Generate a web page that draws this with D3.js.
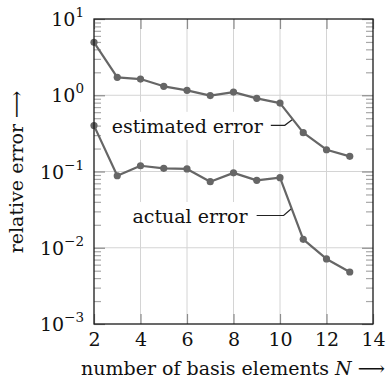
<!DOCTYPE html>
<html>
<head>
<meta charset="utf-8">
<script src="https://cdn.jsdelivr.net/npm/d3@7"></script>
<style>
  html, body { margin: 0; padding: 0; background: #fff; }
  svg { display: block; }
  text { font-family: "DejaVu Serif", "Liberation Serif", serif; fill: #111; }
</style>
</head>
<body>
<svg id="chart" width="392" height="380"></svg>
<script>
// ---- data ----
const basisN = [2, 3, 4, 5, 6, 7, 8, 9, 10, 11, 12, 13];
const estimatedError = [4.95, 1.72, 1.63, 1.31, 1.16, 0.99, 1.10, 0.91, 0.79, 0.323, 0.193, 0.158];
const actualError = [0.40, 0.088, 0.119, 0.110, 0.108, 0.0735, 0.096, 0.0766, 0.083, 0.0129, 0.00713, 0.00481];
const xTickValues = [2, 4, 6, 8, 10, 12, 14];
const yTickExponents = [-3, -2, -1, 0, 1];
const seriesLabels = ["estimated error", "actual error"];
const xTitle = "number of basis elements ";
const yTitle = "relative error ";

// ---- layout ----
const svg = d3.select("#chart");
const L = 94, R = 373, T = 19, B = 324;
const x = d3.scaleLinear().domain([2, 14]).range([L, R]);
const y = d3.scaleLog().domain([1e-3, 1e1]).range([B, T]);

const yMajor = yTickExponents.map(e => Math.pow(10, e));
const yMinor = [];
for (let e = -3; e < 1; e++) for (let m = 2; m <= 9; m++) yMinor.push(m * Math.pow(10, e));

const gridColor = "#d4d4d4", tickColor = "#8c8c8c", minorColor = "#a8a8a8";
const lineColor = "#666666";

// grid
const grid = svg.append("g");
grid.selectAll(".gx").data(xTickValues.slice(1, -1)).join("line")
  .attr("x1", d => x(d)).attr("x2", d => x(d)).attr("y1", T).attr("y2", B)
  .attr("stroke", gridColor).attr("stroke-width", 1);
grid.selectAll(".gy").data(yMajor.slice(1, -1)).join("line")
  .attr("x1", L).attr("x2", R).attr("y1", d => y(d)).attr("y2", d => y(d))
  .attr("stroke", gridColor).attr("stroke-width", 1);

function styleAxis(g, color) {
  g.select(".domain").remove();
  g.selectAll(".tick line").attr("stroke", color).attr("stroke-width", 1.2);
}

// x ticks bottom with labels
const xb = svg.append("g").attr("transform", `translate(0,${B})`)
  .call(d3.axisBottom(x).tickValues(xTickValues).tickSize(-10).tickPadding(9).tickFormat(d3.format("d")));
styleAxis(xb, tickColor);
xb.selectAll(".tick text").attr("font-size", 19).attr("fill", "#111")
  .attr("font-family", "DejaVu Serif");
// x ticks top
const xt = svg.append("g").attr("transform", `translate(0,${T})`)
  .call(d3.axisTop(x).tickValues(xTickValues).tickSize(-10).tickFormat(""));
styleAxis(xt, tickColor);

// y ticks: left and right, major and minor
const yl = svg.append("g").attr("transform", `translate(${L},0)`)
  .call(d3.axisLeft(y).tickValues(yMajor).tickSize(-11).tickFormat(""));
styleAxis(yl, tickColor);
const ylm = svg.append("g").attr("transform", `translate(${L},0)`)
  .call(d3.axisLeft(y).tickValues(yMinor).tickSize(-7).tickFormat(""));
styleAxis(ylm, minorColor);
const yr = svg.append("g").attr("transform", `translate(${R},0)`)
  .call(d3.axisRight(y).tickValues(yMajor).tickSize(-11).tickFormat(""));
styleAxis(yr, tickColor);
const yrm = svg.append("g").attr("transform", `translate(${R},0)`)
  .call(d3.axisRight(y).tickValues(yMinor).tickSize(-7).tickFormat(""));
styleAxis(yrm, minorColor);

// y tick labels 10^e
const ylab = svg.append("g");
yTickExponents.forEach(e => {
  const t = ylab.append("text").attr("x", L - 10).attr("y", y(Math.pow(10, e)) + 7)
    .attr("text-anchor", "end").attr("font-size", 19);
  t.append("tspan").text("10");
  t.append("tspan").attr("dy", -9).attr("font-size", 13.5)
    .text(e < 0 ? "\u2212" + Math.abs(e) : String(e));
});

// labels with pins
function logInterp(xs, ys, xv) {
  const i = xs.findIndex(v => v > xv) - 1;
  const t = (xv - xs[i]) / (xs[i + 1] - xs[i]);
  return Math.exp(Math.log(ys[i]) + t * (Math.log(ys[i + 1]) - Math.log(ys[i])));
}
const pins = [
  { label: seriesLabels[0], series: estimatedError, at: 10.55, dx: -8, dy: 6, len: 14, gap: 8, base: 7.5 },
  { label: seriesLabels[1], series: actualError, at: 10.5, dx: -8, dy: 7, len: 27, gap: 9, base: 7.5 }
];
const pinG = svg.append("g");
pins.forEach(p => {
  const px = x(p.at), py = y(logInterp(basisN, p.series, p.at));
  const hx = px + p.dx, hy = py + p.dy;
  const ex = hx - p.len;
  const txt = pinG.append("text").attr("x", ex - p.gap).attr("y", hy + p.base)
    .attr("text-anchor", "end").attr("font-size", 19).text(p.label);
  const bb = txt.node().getBBox();
  pinG.insert("rect", "text").attr("x", bb.x - 5).attr("y", bb.y - 3)
    .attr("width", bb.width + 10).attr("height", bb.height + 6).attr("fill", "#fff");
  pinG.append("path").attr("d", `M${px},${py}L${hx},${hy}L${ex},${hy}`)
    .attr("fill", "none").attr("stroke", "#222").attr("stroke-width", 1.2);
});

// data lines
const line = d3.line().x((d, i) => x(basisN[i])).y(d => y(d));
[estimatedError, actualError].forEach(s => {
  svg.append("path").datum(s).attr("d", line).attr("fill", "none")
    .attr("stroke", lineColor).attr("stroke-width", 2.2).attr("stroke-linejoin", "round");
  svg.append("g").selectAll("circle").data(s).join("circle")
    .attr("cx", (d, i) => x(basisN[i])).attr("cy", d => y(d)).attr("r", 3.6)
    .attr("fill", lineColor);
});

// frame
svg.append("rect").attr("x", L).attr("y", T).attr("width", R - L).attr("height", B - T)
  .attr("fill", "none").attr("stroke", "#1a1a1a").attr("stroke-width", 1.3);

// axis titles
const xt2 = svg.append("text").attr("x", 233).attr("y", 375).attr("text-anchor", "middle")
  .attr("font-size", 19);
xt2.append("tspan").text(xTitle);
xt2.append("tspan").attr("font-style", "italic").text("N");
xt2.append("tspan").text(" \u27F6");

svg.append("text").attr("transform", "translate(23,172) rotate(-90)")
  .attr("text-anchor", "middle").attr("font-size", 19)
  .text(yTitle + "\u27F6");
</script>
</body>
</html>
